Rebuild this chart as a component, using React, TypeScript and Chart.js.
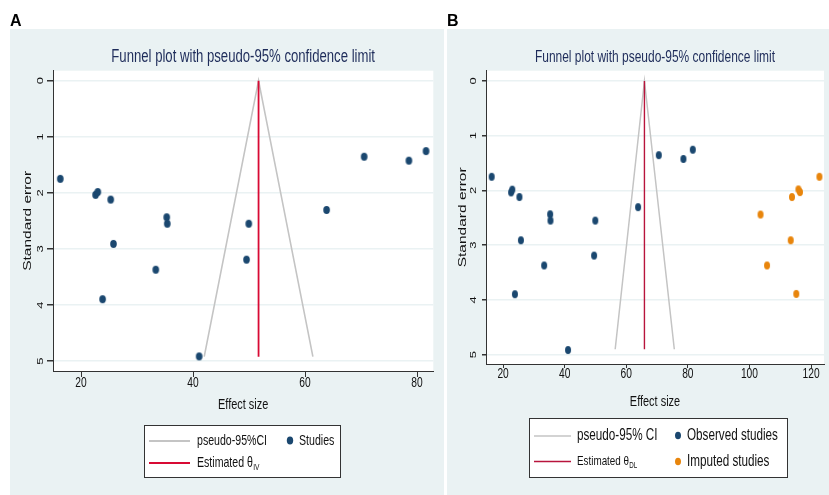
import { useEffect, useRef } from "react";
import { Chart, registerables } from "chart.js";

Chart.register(...registerables);

// ---------- data ----------
const yTicks = [0, 1, 2, 3, 4, 5];
const xTicksA = [20, 40, 60, 80];
const xTicksB = [20, 40, 60, 80, 100, 120];

const studyEffect = [16.3, 22.6, 23.0, 25.3, 35.3, 35.4, 25.8, 33.35, 23.85, 49.95, 49.55, 63.85, 41.1, 70.55, 78.55, 81.6];
const studySE = [1.75, 2.035, 1.985, 2.12, 2.435, 2.55, 2.91, 3.37, 3.895, 2.55, 3.19, 2.305, 4.915, 1.355, 1.425, 1.255];

const imputedEffect = [103.6, 113.8, 115.9, 116.4, 122.7, 113.4, 105.7, 115.2];
const imputedSE = [2.44, 2.12, 1.98, 2.03, 1.75, 2.91, 3.37, 3.89];

const funnelAEffect = [42.0, 51.7, 61.4];
const funnelASE = [4.92, 0, 4.92];
const thetaAEffect = [51.7, 51.7];
const thetaASE = [0, 4.92];

const funnelBEffect = [56.4, 65.9, 75.6];
const funnelBSE = [4.9, 0, 4.9];
const thetaBEffect = [65.9, 65.9];
const thetaBSE = [0, 4.9];

// ---------- styles ----------
const FONT = '"Liberation Sans", Arial, sans-serif';
const SQ = 0.73; // horizontal squeeze of the reference picture
const BG = "#eaf2f3";
const NAVY = "#1a476f";
const ORANGE = "#e8850c";
const GREY = "#c4c4c4";
const RED_A = "#d80a34";
const RED_B = "#b8143c";
const TITLE_COLOR = "#1e2c5a";
const TEXT = "#111111";

const pts = (xs: number[], ys: number[]) => xs.map((x, i) => ({ x, y: ys[i] }));

function ellipseCanvas(color: string, rx: number, ry: number) {
  const c = document.createElement("canvas");
  const w = Math.ceil(rx * 2 + 2);
  const h = Math.ceil(ry * 2 + 2);
  c.width = w;
  c.height = h;
  const g = c.getContext("2d")!;
  g.fillStyle = color;
  g.beginPath();
  g.ellipse(w / 2, h / 2, rx, ry, 0, 0, Math.PI * 2);
  g.fill();
  return c;
}

function sText(
  ctx: CanvasRenderingContext2D,
  text: string,
  x: number,
  y: number,
  size: number,
  align: CanvasTextAlign = "left",
  color = TEXT,
  rotate = false
) {
  ctx.save();
  ctx.translate(x, y);
  if (rotate) {
    ctx.rotate(-Math.PI / 2);
    ctx.scale(1, SQ);
  } else {
    ctx.scale(SQ, 1);
  }
  ctx.font = `${size}px ${FONT}`;
  ctx.fillStyle = color;
  ctx.textAlign = align;
  ctx.textBaseline = "middle";
  ctx.fillText(text, 0, 0);
  const w = ctx.measureText(text).width;
  ctx.restore();
  return rotate ? w : w * SQ;
}

function drawSub(ctx: CanvasRenderingContext2D, x: number, y: number, main: string, sub: string, size: number, subSize: number) {
  const w = sText(ctx, main, x, y, size);
  sText(ctx, sub, x + w + 0.3, y + size * 0.3, subSize);
}

function hline(ctx: CanvasRenderingContext2D, x1: number, x2: number, y: number, c: string, w: number) {
  ctx.beginPath();
  ctx.strokeStyle = c;
  ctx.lineWidth = w;
  ctx.moveTo(x1, y);
  ctx.lineTo(x2, y);
  ctx.stroke();
}

function dot(ctx: CanvasRenderingContext2D, x: number, y: number, rx: number, ry: number, c: string) {
  ctx.beginPath();
  ctx.fillStyle = c;
  ctx.ellipse(x, y, rx, ry, 0, 0, Math.PI * 2);
  ctx.fill();
}

type PanelCfg = {
  letter: string;
  width: number;
  bgX: number;
  yAxisW: number;
  xAxisH: number;
  padRight: number;
  xMin: number;
  xMax: number;
  yMin: number;
  yMax: number;
  xTicks: number[];
  titleSize: number;
  tickLen: number;
  xLabelY: number;
  yTitleX: number;
  xTitleY: number;
  datasets: () => any[];
  legend: (ctx: CanvasRenderingContext2D) => void;
};

function makePlugin(cfg: PanelCfg) {
  return {
    id: "stataDecor" + cfg.letter,
    beforeDraw(chart: any) {
      const { ctx, chartArea: a } = chart;
      ctx.save();
      ctx.fillStyle = "#ffffff";
      ctx.fillRect(0, 0, chart.width, chart.height);
      ctx.fillStyle = BG;
      ctx.fillRect(cfg.bgX, 29, chart.width - cfg.bgX, chart.height - 29);
      ctx.fillStyle = "#ffffff";
      ctx.fillRect(a.left, a.top, a.right - a.left, a.bottom - a.top);
      ctx.restore();
    },
    afterDraw(chart: any) {
      const { ctx, chartArea: a } = chart;
      const ys = chart.scales.y;
      const xs = chart.scales.x;
      ctx.save();
      // panel letter
      ctx.fillStyle = "#000";
      ctx.font = `bold 16px ${FONT}`;
      ctx.textAlign = "left";
      ctx.textBaseline = "alphabetic";
      ctx.fillText(cfg.letter, cfg.bgX, 26);
      // title
      sText(ctx, "Funnel plot with pseudo-95% confidence limit", (a.left + a.right) / 2, 57, cfg.titleSize, "center", TITLE_COLOR);
      // y tick labels (rotated)
      for (const t of ys.ticks) {
        sText(ctx, String(t.value), a.left - 13, ys.getPixelForValue(t.value), 13, "center", TEXT, true);
      }
      // x tick labels
      for (const t of xs.ticks) {
        sText(ctx, String(t.value), xs.getPixelForValue(t.value), cfg.xLabelY, 14, "center", TEXT);
      }
      // axis titles
      sText(ctx, "Standard error", cfg.yTitleX, (a.top + a.bottom) / 2, 15.5, "center", TEXT, true);
      sText(ctx, "Effect size", (a.left + a.right) / 2, cfg.xTitleY, 15, "center", TEXT);
      cfg.legend(ctx);
      ctx.restore();
    },
  };
}

function legendA(ctx: CanvasRenderingContext2D) {
  ctx.fillStyle = "#fff";
  ctx.fillRect(144.5, 425.5, 196, 52);
  ctx.strokeStyle = "#333";
  ctx.lineWidth = 1;
  ctx.strokeRect(144.5, 425.5, 196, 52);
  hline(ctx, 149, 190, 441, GREY, 2);
  hline(ctx, 149, 190, 463, RED_A, 2);
  sText(ctx, "pseudo-95%CI", 197, 441, 14.5);
  sText(ctx, "Studies", 299, 441, 14.5);
  drawSub(ctx, 197, 463, "Estimated θ", "IV", 14.5, 9);
  dot(ctx, 290, 440.5, 3.2, 4, NAVY);
}

function legendB(ctx: CanvasRenderingContext2D) {
  ctx.fillStyle = "#fff";
  ctx.fillRect(82.5, 418.5, 258, 59);
  ctx.strokeStyle = "#333";
  ctx.lineWidth = 1;
  ctx.strokeRect(82.5, 418.5, 258, 59);
  hline(ctx, 87, 124, 436, GREY, 1.5);
  hline(ctx, 87, 124, 461.5, RED_B, 1.5);
  sText(ctx, "pseudo-95% CI", 130, 436, 16);
  sText(ctx, "Observed studies", 240, 436, 16);
  sText(ctx, "Imputed studies", 240, 462, 16);
  drawSub(ctx, 130, 461.5, "Estimated θ", "DL", 13.5, 8.5);
  dot(ctx, 231, 435.5, 3, 3.8, NAVY);
  dot(ctx, 231, 461.5, 3, 3.8, ORANGE);
}

function Panel({ cfg, left }: { cfg: PanelCfg; left: number }) {
  const ref = useRef<HTMLCanvasElement | null>(null);
  useEffect(() => {
    if (!ref.current) return;
    const chart = new Chart(ref.current, {
      type: "scatter",
      data: { datasets: cfg.datasets() },
      options: {
        responsive: false,
        animation: false,
        devicePixelRatio: 1,
        layout: { padding: { top: 70.7, left: 0, right: cfg.padRight, bottom: 0 } },
        plugins: { legend: { display: false }, tooltip: { enabled: false }, title: { display: false } },
        scales: {
          x: {
            type: "linear",
            min: cfg.xMin,
            max: cfg.xMax,
            afterBuildTicks: (s: any) => {
              s.ticks = cfg.xTicks.map((v) => ({ value: v }));
            },
            afterFit: (s: any) => {
              s.height = cfg.xAxisH;
            },
            grid: { drawOnChartArea: false, color: "#333", tickLength: cfg.tickLen, lineWidth: 1 },
            border: { color: "#333", width: 1 },
            ticks: { display: false },
          },
          y: {
            type: "linear",
            reverse: true,
            min: cfg.yMin,
            max: cfg.yMax,
            afterBuildTicks: (s: any) => {
              s.ticks = yTicks.map((v) => ({ value: v }));
            },
            afterFit: (s: any) => {
              s.width = cfg.yAxisW;
            },
            grid: { color: BG, lineWidth: 1.5, tickColor: "#333", tickLength: cfg.tickLen },
            border: { color: "#333", width: 1 },
            ticks: { display: false },
          },
        },
      },
      plugins: [makePlugin(cfg)],
    } as any);
    return () => chart.destroy();
  }, []);
  return (
    <canvas
      ref={ref}
      width={cfg.width}
      height={495}
      style={{ position: "absolute", left, top: 0, width: cfg.width, height: 495 }}
    />
  );
}

const cfgA: PanelCfg = {
  letter: "A",
  width: 444,
  bgX: 10,
  yAxisW: 53,
  xAxisH: 124,
  padRight: 10.7,
  xMin: 15.0,
  xMax: 82.9,
  yMin: -0.178,
  yMax: 5.175,
  xTicks: xTicksA,
  titleSize: 18,
  tickLen: 6,
  xLabelY: 383,
  yTitleX: 28,
  xTitleY: 405,
  legend: legendA,
  datasets: () => [
    { label: "Studies", data: pts(studyEffect, studySE), pointStyle: ellipseCanvas(NAVY, 3.3, 4.0), pointRadius: 4, showLine: false },
    { label: "Estimated", data: pts(thetaAEffect, thetaASE), showLine: true, borderColor: RED_A, borderWidth: 1.8, pointRadius: 0 },
    { label: "pseudo-95%CI", data: pts(funnelAEffect, funnelASE), showLine: true, borderColor: GREY, borderWidth: 1.6, pointRadius: 0 },
  ],
};

const cfgB: PanelCfg = {
  letter: "B",
  width: 382,
  bgX: 0,
  yAxisW: 39,
  xAxisH: 131,
  padRight: 0,
  xMin: 14.46,
  xMax: 124.2,
  yMin: -0.188,
  yMax: 5.17,
  xTicks: xTicksB,
  titleSize: 16.4,
  tickLen: 4,
  xLabelY: 374,
  yTitleX: 16,
  xTitleY: 402,
  legend: legendB,
  datasets: () => [
    { label: "Observed studies", data: pts(studyEffect, studySE), pointStyle: ellipseCanvas(NAVY, 3.0, 4.0), pointRadius: 4, showLine: false },
    { label: "Imputed studies", data: pts(imputedEffect, imputedSE), pointStyle: ellipseCanvas(ORANGE, 3.0, 4.0), pointRadius: 4, showLine: false },
    { label: "Estimated", data: pts(thetaBEffect, thetaBSE), showLine: true, borderColor: RED_B, borderWidth: 1.4, pointRadius: 0 },
    { label: "pseudo-95% CI", data: pts(funnelBEffect, funnelBSE), showLine: true, borderColor: GREY, borderWidth: 1.5, pointRadius: 0 },
  ],
};

export default function App() {
  return (
    <div style={{ position: "absolute", left: 0, top: 0, width: 829, height: 495, background: "#fff", overflow: "hidden" }}>
      <Panel cfg={cfgA} left={0} />
      <Panel cfg={cfgB} left={447} />
    </div>
  );
}
